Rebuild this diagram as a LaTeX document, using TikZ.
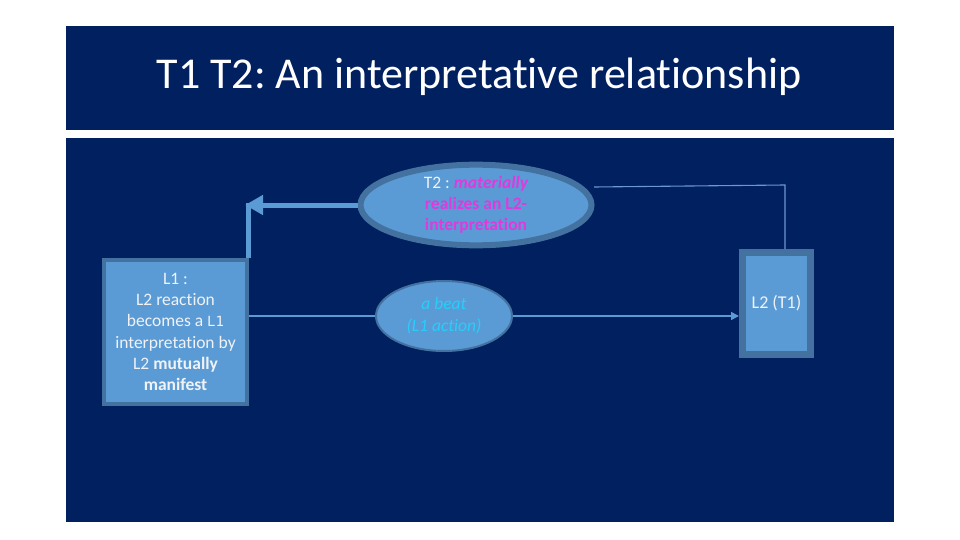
\documentclass[tikz,border=0pt]{standalone}
\usepackage{fontspec}
\setmainfont{Carlito}[Ligatures={NoCommon}]
\newfontfamily\monof{DejaVu Sans Mono}
\usetikzlibrary{arrows.meta,shapes.geometric}
\frenchspacing
\definecolor{navy}{RGB}{0,32,96}
\definecolor{lblue}{RGB}{91,155,213}
\definecolor{bord}{RGB}{68,114,160}
\definecolor{mag}{RGB}{222,58,222}
\definecolor{cyanish}{RGB}{40,205,250}
\definecolor{txtw}{RGB}{240,242,245}
\definecolor{thinc}{RGB}{110,150,210}
\tikzset{
  boxL/.style={draw=bord, fill=lblue, rectangle, inner sep=0pt, align=center, text=txtw},
  ell/.style={draw=bord, fill=lblue, ellipse, inner sep=0pt, align=center},
  thinconn/.style={draw=lblue, line width=1.6pt},
  thickconn/.style={draw=lblue, line width=5pt},
  topline/.style={draw=thinc, line width=1.1pt}
}
\begin{document}
\begin{tikzpicture}[x=1pt,y=-1pt]
\useasboundingbox (0,0) rectangle (960,540);
\fill[white] (0,0) rectangle (960,540);
\fill[navy] (66,26) rectangle (894,130);
\fill[navy] (66,138) rectangle (894,522);
\node[font=\fontsize{44}{48}\selectfont, text=white] (title) at (479,77) {T1 T2: An interpretative relationship};

\node[ell, line width=6pt, minimum width=231pt, minimum height=80pt,
      font=\fontsize{17.5}{21}\selectfont] (T2) at (476,205)
  {\textcolor{txtw}{\mdseries T2 :} \textcolor{mag}{\bfseries\itshape materially}\\
   \textcolor{mag}{\bfseries realizes an L2-}\\
   \textcolor{mag}{\bfseries interpretation}};

\node[ell, line width=2pt, minimum width=136pt, minimum height=70pt,
      text=cyanish, font=\fontsize{17.5}{22}\selectfont\itshape] (beat) at (444,316)
  {a beat\\(L1 action)};

\node[boxL, line width=4pt, minimum width=143pt, minimum height=144pt,
      font=\fontsize{17.5}{21.3}\selectfont] (L1) at (175.5,332)
  {L1 :\\L2 reaction\\becomes a {\monof\fontsize{14}{21}\selectfont L1}\\interpretation by\\L2 \textbf{mutually}\\\textbf{manifest}};

\node[boxL, line width=7pt, minimum width=68pt, minimum height=102pt,
      font=\fontsize{18}{20}\selectfont] (L2) at (776.5,303.5) {L2 (T1)};

\draw[thinconn] (L1.east |- beat.west) -- (beat.west);
\draw[thinconn, -{Triangle[length=8pt,width=8pt]}] (beat.east) -- (L2.west |- beat.east);

\coordinate (corner) at (248,205);
\draw[thickconn] (corner |- L1.north) -- ([yshift=2.5pt]corner);
\draw[thickconn, -{Triangle[length=18pt,width=19pt]}] (T2.west) -- ([xshift=-3pt]corner);

\coordinate (t2r) at (594,187);
\coordinate (drop) at (785,185);
\draw[topline] (t2r) -- (drop) -- (drop |- L2.north);
\end{tikzpicture}
\end{document}
